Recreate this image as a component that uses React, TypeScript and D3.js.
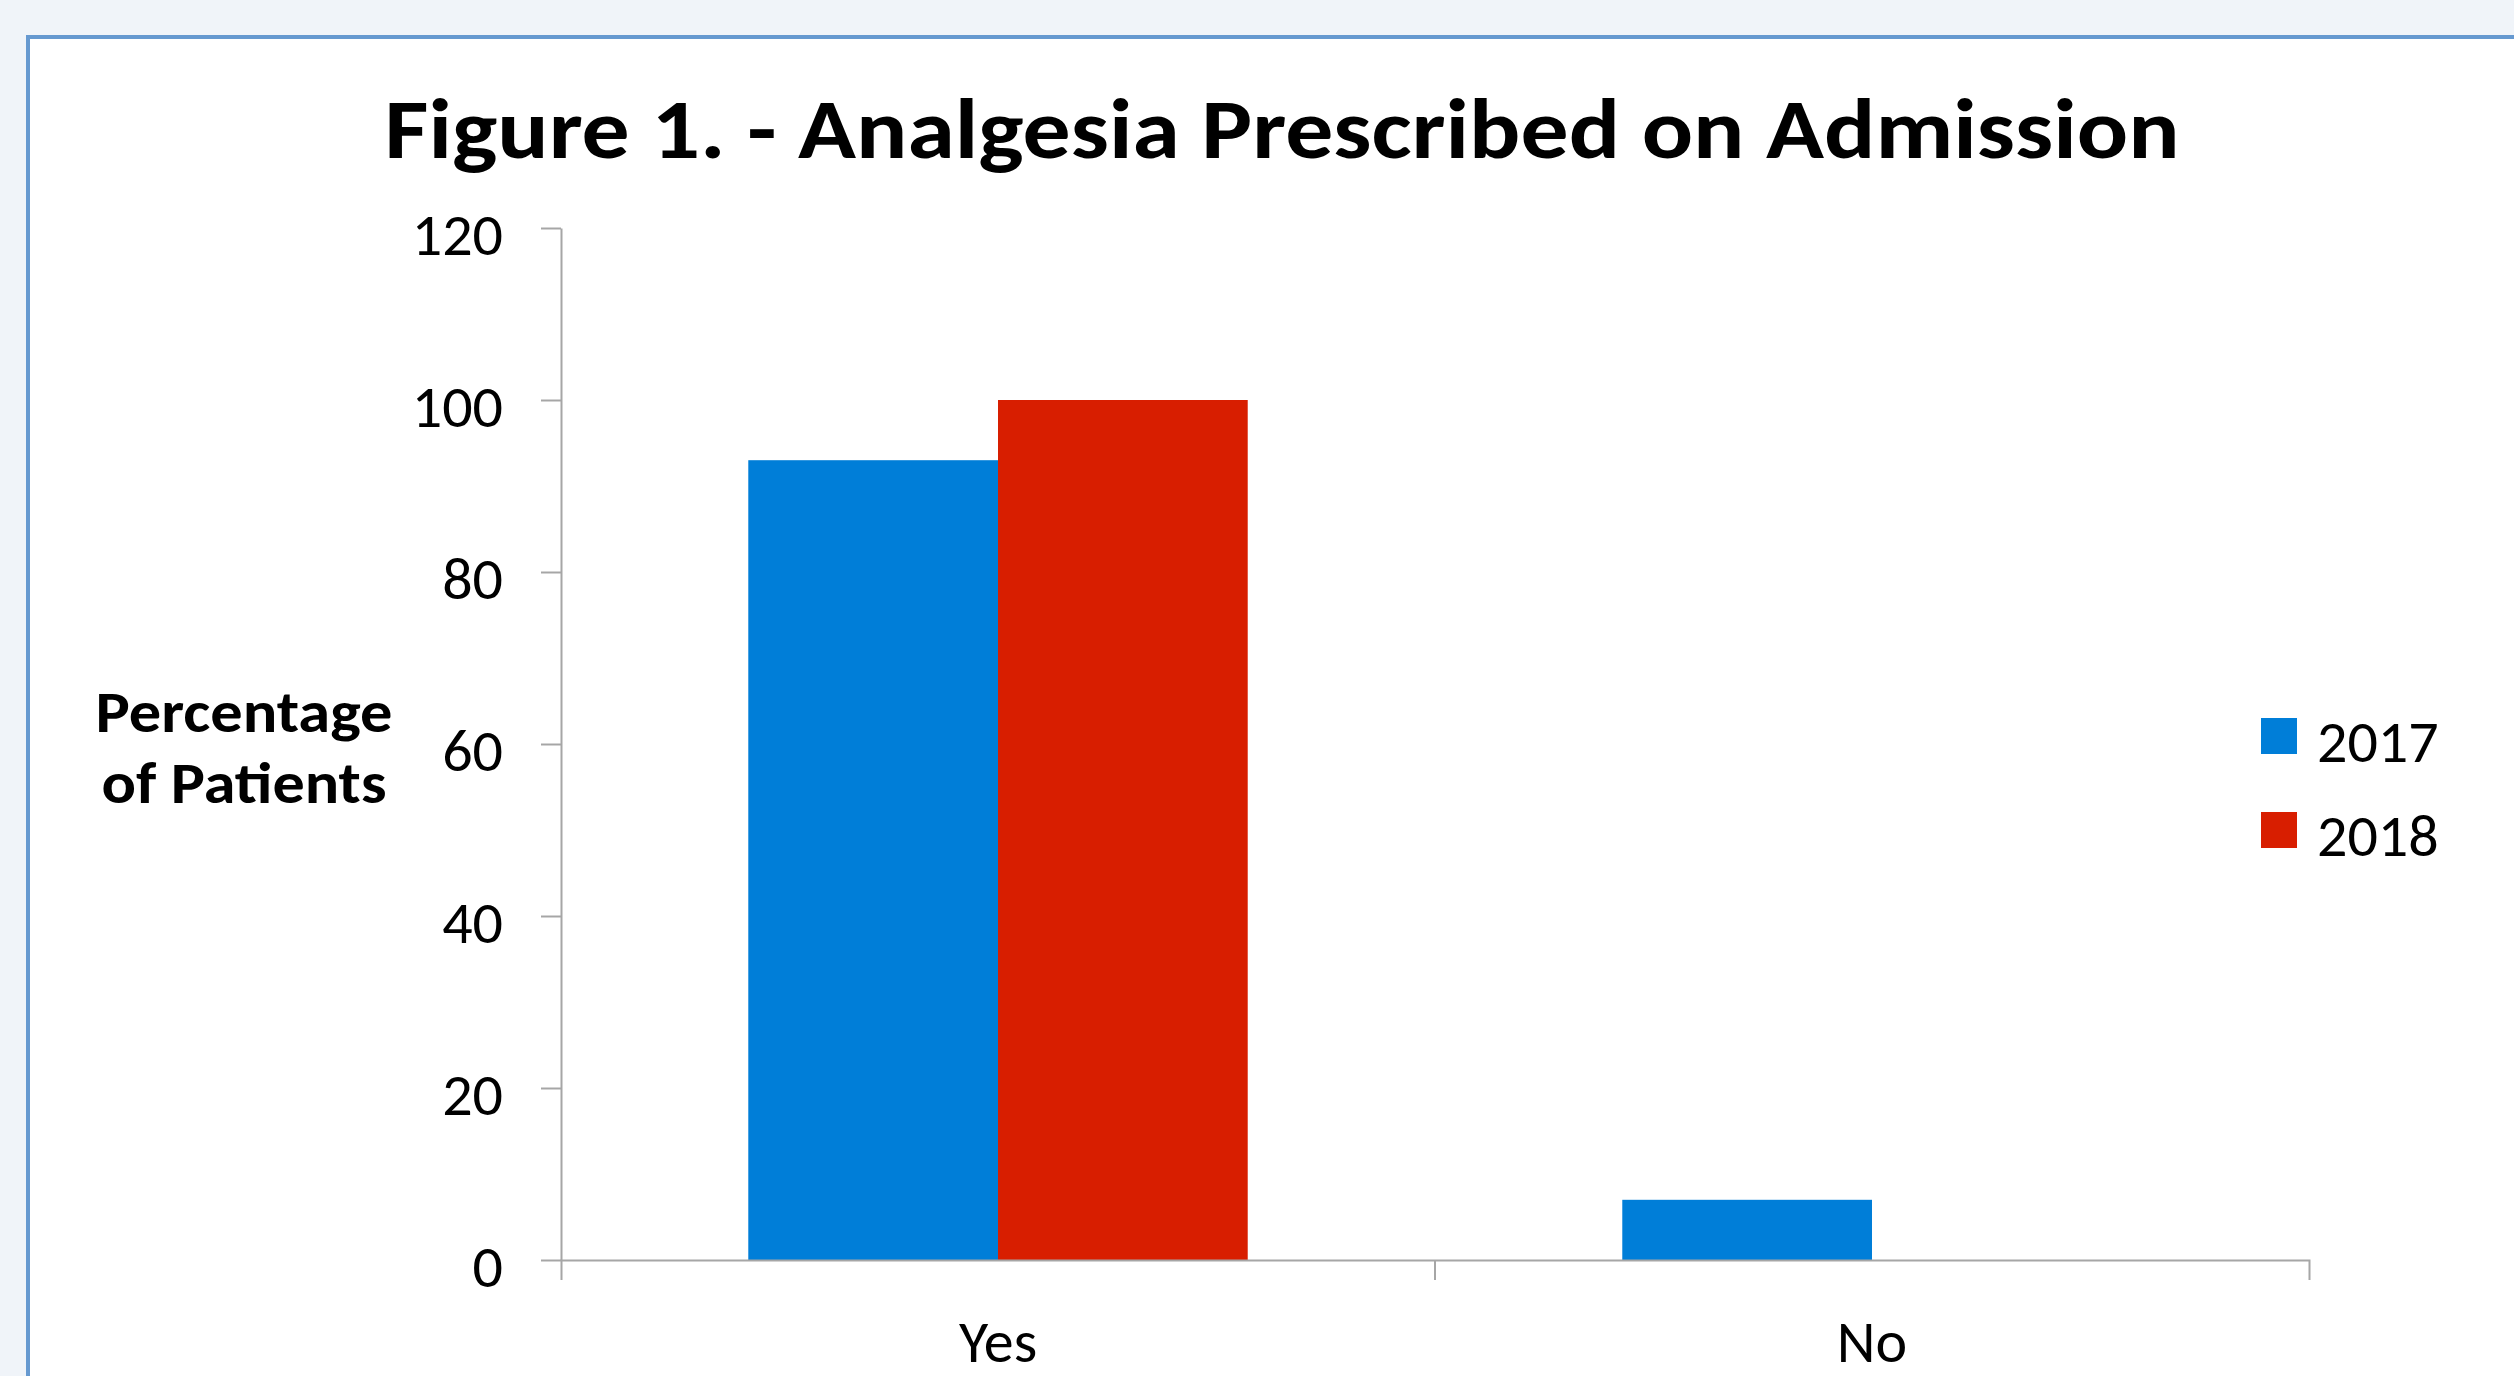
import React, { useEffect, useRef } from 'react';
import * as d3 from 'd3';

const categories = ['Yes', 'No'];
const seriesNames = ['2017', '2018'];
const values2017 = [93, 7];
const values2018 = [100, 0];
const yTicks = [0, 20, 40, 60, 80, 100, 120];

const seriesColors: Record<string, string> = {
  '2017': '#007ED8',
  '2018': '#D81E00',
};

const W = 2514;
const H = 1376;
const FONT = 'Carlito, Calibri, Lato, sans-serif';

const App: React.FC = () => {
  const ref = useRef<SVGSVGElement>(null);

  useEffect(() => {
    if (!ref.current) return;
    const svg = d3.select(ref.current);
    svg.selectAll('*').remove();

    // page + frame
    svg.append('rect').attr('width', W).attr('height', H).attr('fill', '#F0F4F9');
    svg.append('rect')
      .attr('x', 28).attr('y', 37)
      .attr('width', W + 40).attr('height', H + 40)
      .attr('fill', '#fff')
      .attr('stroke', '#6699D0')
      .attr('stroke-width', 4);

    svg.append('text')
      .attr('x', 1282).attr('y', 158)
      .attr('text-anchor', 'middle')
      .attr('font-family', FONT)
      .attr('font-weight', 700)
      .attr('font-size', 85)
      .attr('textLength', 1795)
      .attr('lengthAdjust', 'spacingAndGlyphs')
      .text('Figure 1. - Analgesia Prescribed on Admission');

    const y = d3.scaleLinear().domain([0, 120]).range([1260, 228]);
    const x0 = d3.scaleBand().domain(categories).range([561, 2309]).paddingInner(0).paddingOuter(0);
    const x1 = d3.scaleBand().domain(seriesNames).range([0, x0.bandwidth()]).paddingInner(0).paddingOuter(0.75);

    const rows = categories.map((c, i) => ({
      cat: c,
      vals: [
        { key: '2017', v: values2017[i] },
        { key: '2018', v: values2018[i] },
      ],
    }));

    // bars
    const groups = svg.selectAll('.cat')
      .data(rows)
      .enter()
      .append('g')
      .attr('transform', d => `translate(${x0(d.cat)},0)`);

    groups.selectAll('rect')
      .data(d => d.vals.filter(v => v.v > 0))
      .enter()
      .append('rect')
      .attr('x', d => x1(d.key) || 0)
      .attr('width', x1.bandwidth())
      .attr('y', d => y(d.v))
      .attr('height', d => y(0) - y(d.v))
      .attr('fill', d => seriesColors[d.key]);

    // y axis
    const yAxis = svg.append('g')
      .attr('transform', 'translate(561,0)')
      .call(d3.axisLeft(y).tickValues(yTicks).tickSize(20).tickSizeOuter(0).tickPadding(38));
    yAxis.selectAll('path, line').attr('stroke', '#A6A6A6').attr('stroke-width', 2);
    yAxis.selectAll('text')
      .attr('font-family', FONT)
      .attr('font-size', 60)
      .attr('fill', '#000')
      .attr('dy', '0.44em');

    // x axis
    const xAxis = svg.append('g')
      .attr('transform', 'translate(0,1260)')
      .call(d3.axisBottom(x0).tickSize(0).tickSizeOuter(20));
    xAxis.selectAll('path').attr('stroke', '#A6A6A6').attr('stroke-width', 2);
    xAxis.selectAll('text')
      .attr('font-family', FONT)
      .attr('font-size', 60)
      .attr('fill', '#000')
      .attr('y', 102)
      .attr('dy', 0);

    // boundary ticks between categories
    xAxis.selectAll('.divider')
      .data(categories.slice(1))
      .enter()
      .append('line')
      .attr('x1', d => x0(d) || 0)
      .attr('x2', d => x0(d) || 0)
      .attr('y1', 0)
      .attr('y2', 20)
      .attr('stroke', '#A6A6A6')
      .attr('stroke-width', 2);

    // y title
    const yTitle = svg.append('text')
      .attr('text-anchor', 'middle')
      .attr('font-family', FONT)
      .attr('font-weight', 700)
      .attr('font-size', 58);
    yTitle.append('tspan').attr('x', 244).attr('y', 732)
      .attr('textLength', 297).attr('lengthAdjust', 'spacingAndGlyphs')
      .text('Percentage');
    yTitle.append('tspan').attr('x', 244).attr('y', 803)
      .attr('textLength', 285).attr('lengthAdjust', 'spacingAndGlyphs')
      .text('of Patients');

    // legend
    const legend = svg.selectAll('.legend')
      .data(seriesNames)
      .enter()
      .append('g')
      .attr('transform', (d, i) => `translate(2261,${718 + i * 94})`);
    legend.append('rect')
      .attr('width', 36)
      .attr('height', 36)
      .attr('fill', d => seriesColors[d]);
    legend.append('text')
      .attr('x', 56)
      .attr('y', 44)
      .attr('font-family', FONT)
      .attr('font-size', 60)
      .text(d => d);
  }, []);

  return (
    <svg
      ref={ref}
      width={W}
      height={H}
      style={{ position: 'fixed', top: 0, left: 0, display: 'block' }}
    />
  );
};

export default App;
